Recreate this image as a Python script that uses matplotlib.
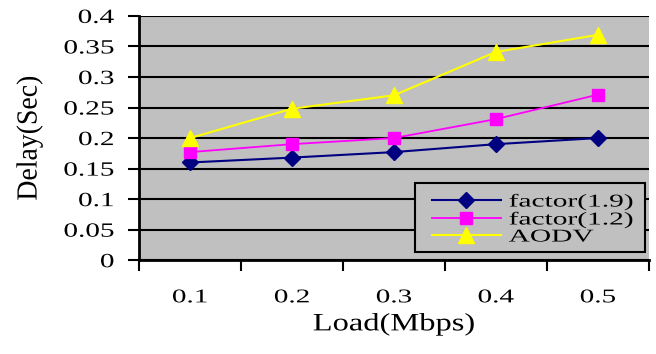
import numpy as np
from matplotlib import pyplot as plt
from matplotlib.patches import Rectangle
from matplotlib.patheffects import AbstractPathEffect
from matplotlib.transforms import Affine2D

loads = ['0.1', '0.2', '0.3', '0.4', '0.5']
factor_19 = [0.160, 0.168, 0.177, 0.190, 0.200]
factor_12 = [0.177, 0.190, 0.200, 0.231, 0.271]
aodv = [0.200, 0.248, 0.270, 0.341, 0.369]
yticks = [0, 0.05, 0.1, 0.15, 0.2, 0.25, 0.3, 0.35, 0.4]
ytick_labels = ['0', '0.05', '0.1', '0.15', '0.2', '0.25', '0.3', '0.35', '0.4']


class Stretch(AbstractPathEffect):
    # the source picture has its text squashed wide; scale glyphs along x
    def __init__(self, sx=1.0, sy=1.0, pivot='left'):
        super().__init__()
        self.sx, self.sy, self.pivot = sx, sy, pivot

    def draw_path(self, renderer, gc, tpath, affine, rgbFace=None):
        ext = tpath.get_extents()
        px = {'left': 0.0, 'right': ext.x1, 'center': (ext.x0 + ext.x1) / 2}[self.pivot]
        py = (ext.y0 + ext.y1) / 2
        pre = Affine2D().translate(-px, -py).scale(self.sx, self.sy).translate(px, py)
        renderer.draw_path(gc, tpath, pre + affine, rgbFace)


plt.rcParams['font.family'] = ['Liberation Serif', 'DejaVu Serif']

fig = plt.figure(figsize=(6.56, 3.54), dpi=100)
ax = fig.add_axes([0.212, 0.265, 0.777, 0.69])
ax.set_facecolor('#c0c0c0')

x = np.arange(len(loads))
ax.plot(x, factor_19, color='#000080', marker='D', markersize=8, lw=1.5, label='factor(1.9)')
ax.plot(x, factor_12, color='#ff00ff', marker='s', markersize=9, lw=1.3, label='factor(1.2)')
ax.plot(x, aodv, color='#ffff00', marker='^', markersize=11, lw=1.5, label='AODV')

ax.set_xlim(-0.5, len(loads) - 0.5)
ax.set_ylim(0, 0.4)
ax.set_yticks(yticks)
ax.set_yticklabels(ytick_labels)
ax.yaxis.grid(True, color='black', lw=1.5)
ax.set_axisbelow(True)

ax.set_xticks(x)
ax.set_xticklabels(loads)
ax.set_xticks(np.arange(-0.5, len(loads), 1.0), minor=True)
ax.tick_params(axis='x', which='major', length=0, pad=21, labelsize=14)
ax.tick_params(axis='x', which='minor', length=8, width=1.5, direction='out')
ax.tick_params(axis='y', length=8, width=1.5, direction='out', labelsize=14.5, pad=10)

for side in ['top', 'right']:
    ax.spines[side].set_visible(False)
for side in ['left', 'bottom']:
    ax.spines[side].set_linewidth(2)

ax.set_xlabel('Load(Mbps)', fontsize=18)
ax.set_ylabel('Delay(Sec)', fontsize=20)
ax.xaxis.set_label_coords(0.5, -0.215)
ax.yaxis.set_label_coords(-0.19, 0.5)

# legend frame drawn by hand so the entries can sit further in
frame = Rectangle((0.541, 0.033), 0.451, 0.283, transform=ax.transAxes, facecolor='#c0c0c0',
                  edgecolor='black', lw=1.5, zorder=4)
ax.add_patch(frame)
leg = ax.legend(loc='lower left', bbox_to_anchor=(0.5745, 0.06), fontsize=13, frameon=False,
                borderpad=0, labelspacing=0, handlelength=3.8, handletextpad=0.45,
                borderaxespad=0)
leg.set_zorder(5)

for t in ax.get_yticklabels():
    t.set_path_effects([Stretch(sx=1.45, pivot='right')])
for t in ax.get_xticklabels():
    t.set_path_effects([Stretch(sx=1.5, pivot='center')])
for t in leg.get_texts():
    t.set_path_effects([Stretch(sx=1.63, pivot='left')])
ax.xaxis.label.set_path_effects([Stretch(sx=1.3, pivot='center')])
ax.yaxis.label.set_path_effects([Stretch(sy=1.05, pivot='center')])

fig.savefig('out.png', dpi=100)
